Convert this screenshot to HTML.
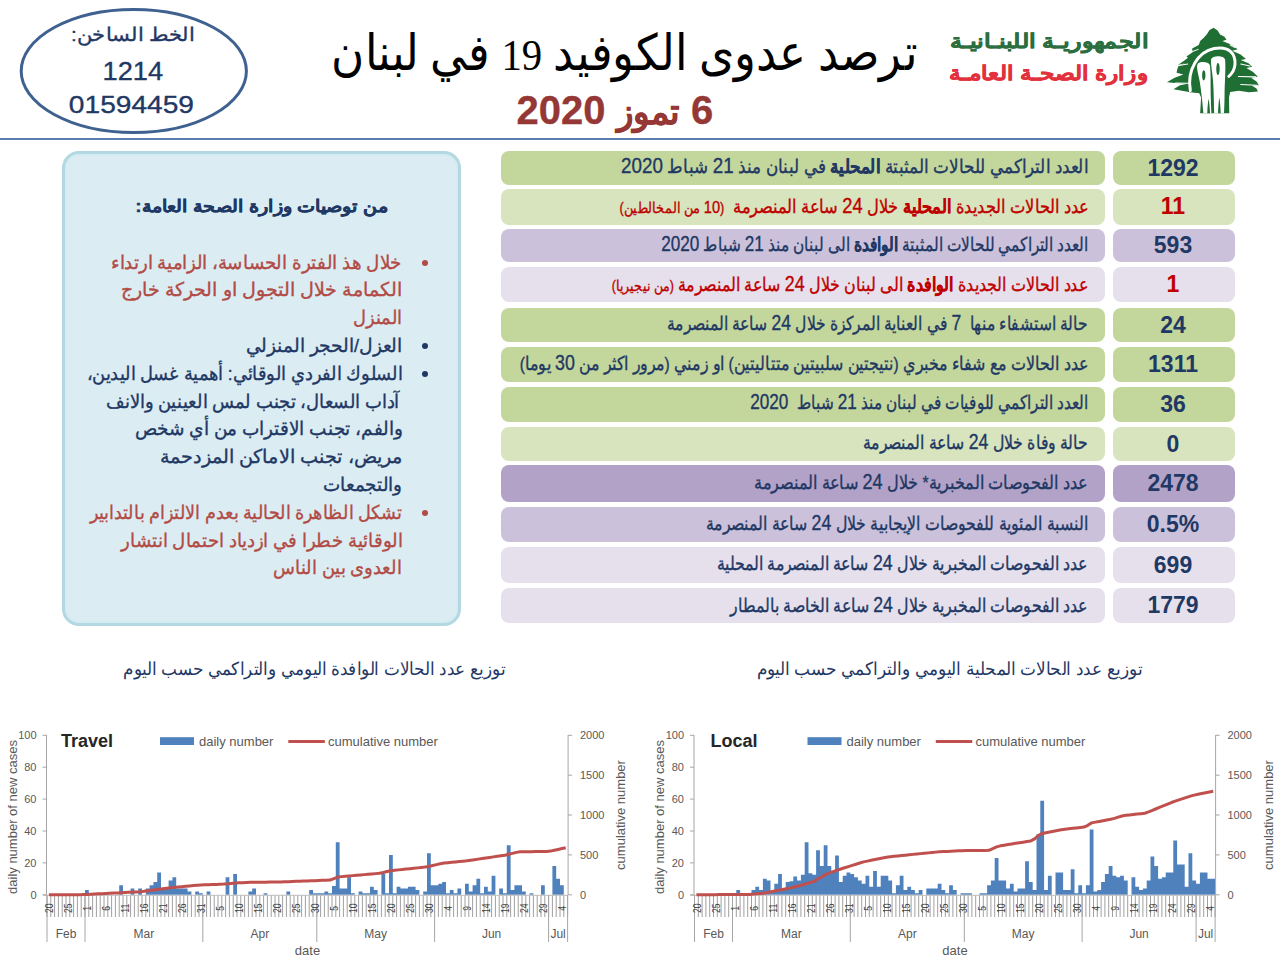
<!DOCTYPE html>
<html><head><meta charset="utf-8">
<style>
*{margin:0;padding:0;box-sizing:border-box}
html,body{width:1280px;height:960px;overflow:hidden;background:#fff}
body{position:relative;font-family:"Liberation Sans",sans-serif;color:#1f3864}
.a{position:absolute;white-space:nowrap}
.x{position:absolute;white-space:nowrap;line-height:1.3;transform-origin:0 0}
.bm{display:inline-block;width:0;height:0}
.g1{background:#c3d69b}.g2{background:#d7e4bd}.p1{background:#ccc1da}.p2{background:#e5e0ec}.p0{background:#b3a2c7}
</style></head><body>
<svg class="a" style="left:0;top:0" width="260" height="140"><ellipse cx="133.8" cy="71" rx="112.6" ry="61.6" fill="none" stroke="#3e6190" stroke-width="3"/></svg>
<svg class="a" style="left:1150px;top:15px" width="130" height="110" viewBox="0 0 1135 960">
<path fill="#1f6e33" d="M555 112 L590 135 L612 170 L650 190 L668 215 L632 226 L690 250 L712 262 L765 298 L718 312 L790 345 L838 385 L792 392 L860 420 L892 452 L842 462 L900 497 L942 540 L882 548 L930 580 L950 614 L888 616 L930 642 L942 668 L862 674 L775 662 L700 672 L690 720 L692 858 L438 858 L446 720 L430 684 L350 674 L280 662 L205 648 L262 614 L330 600 L240 596 L148 588 L215 548 L292 520 L232 505 L238 474 L250 442 L310 420 L244 436 L300 398 L332 372 L318 362 L372 325 L368 292 L425 262 L440 225 L470 198 L498 165 L520 130 Z"/>
<path fill="none" stroke="#fff" stroke-width="26" stroke-linecap="round" d="M352 660 C320 480 420 320 560 292 C690 268 748 335 742 430 C738 485 712 515 688 535"/>
<path fill="none" stroke="#fff" stroke-width="9" stroke-linecap="round" d="M252 440 L330 428 M222 594 L330 596 M792 428 L872 446 M772 536 L925 540 M792 606 L935 614 M372 318 L420 300 M700 262 L740 285"/>
<path fill="#fff" d="M466 858 C458 760 446 650 432 570 C420 510 402 450 416 428 C432 402 512 405 524 440 C532 520 528 600 530 700 C532 760 534 820 536 858 Z"/>
<path fill="#fff" d="M560 858 C558 760 556 650 550 570 C543 490 528 420 534 385 C545 350 648 350 656 390 C662 480 652 600 651 700 C650 780 648 830 646 858 Z"/>
<path fill="#1f6e33" d="M466 482 C480 480 486 505 484 535 C482 565 472 575 464 569 C452 548 452 498 466 482 Z M588 418 C602 416 610 440 608 475 C606 515 596 530 588 522 C576 498 576 442 588 418 Z M500 858 C502 800 506 760 512 730 C518 760 522 810 524 858 Z M594 858 C596 800 600 750 606 720 C612 760 616 810 617 858 Z"/>
</svg>
<div class="a" style="left:0;top:137.5px;width:1280px;height:2px;background:#5a7db3"></div>
<div class="a" style="left:62px;top:151px;width:399px;height:475px;border:3px solid #b2d8e2;border-radius:17px;background:#dbedf3;box-shadow:inset 0 0 0 1.5px #d3eaf1"></div>
<div class="a" style="left:421.9px;top:259.5px;width:6px;height:6px;border-radius:50%;background:#b24b45"></div>
<div class="a" style="left:421.9px;top:342.9px;width:6px;height:6px;border-radius:50%;background:#1f3864"></div>
<div class="a" style="left:421.9px;top:370.7px;width:6px;height:6px;border-radius:50%;background:#1f3864"></div>
<div class="a" style="left:421.9px;top:509.7px;width:6px;height:6px;border-radius:50%;background:#b24b45"></div>
<div class="a g1" style="left:501px;top:150.8px;width:604px;height:33.9px;border-radius:8px"></div>
<div class="a g1" style="left:1113px;top:150.8px;width:122px;height:33.9px;border-radius:8px;text-align:center;font-weight:bold;font-size:23px;line-height:34.4px;padding-right:2px;color:#1f3864">1292</div>
<div class="a g2" style="left:501px;top:189.3px;width:604px;height:35.3px;border-radius:8px"></div>
<div class="a g2" style="left:1113px;top:189.3px;width:122px;height:35.3px;border-radius:8px;text-align:center;font-weight:bold;font-size:23px;line-height:35.8px;padding-right:2px;color:#c00000">11</div>
<div class="a p1" style="left:501px;top:228.9px;width:604px;height:33.1px;border-radius:8px"></div>
<div class="a p1" style="left:1113px;top:228.9px;width:122px;height:33.1px;border-radius:8px;text-align:center;font-weight:bold;font-size:23px;line-height:33.6px;padding-right:2px;color:#1f3864">593</div>
<div class="a p2" style="left:501px;top:266.8px;width:604px;height:35.2px;border-radius:8px"></div>
<div class="a p2" style="left:1113px;top:266.8px;width:122px;height:35.2px;border-radius:8px;text-align:center;font-weight:bold;font-size:23px;line-height:35.7px;padding-right:2px;color:#c00000">1</div>
<div class="a g1" style="left:501px;top:308.0px;width:604px;height:34.0px;border-radius:8px"></div>
<div class="a g1" style="left:1113px;top:308.0px;width:122px;height:34.0px;border-radius:8px;text-align:center;font-weight:bold;font-size:23px;line-height:34.5px;padding-right:2px;color:#1f3864">24</div>
<div class="a g1" style="left:501px;top:346.5px;width:604px;height:35.2px;border-radius:8px"></div>
<div class="a g1" style="left:1113px;top:346.5px;width:122px;height:35.2px;border-radius:8px;text-align:center;font-weight:bold;font-size:23px;line-height:35.7px;padding-right:2px;color:#1f3864">1311</div>
<div class="a g1" style="left:501px;top:386.6px;width:604px;height:35.4px;border-radius:8px"></div>
<div class="a g1" style="left:1113px;top:386.6px;width:122px;height:35.4px;border-radius:8px;text-align:center;font-weight:bold;font-size:23px;line-height:35.9px;padding-right:2px;color:#1f3864">36</div>
<div class="a g2" style="left:501px;top:426.6px;width:604px;height:34.2px;border-radius:8px"></div>
<div class="a g2" style="left:1113px;top:426.6px;width:122px;height:34.2px;border-radius:8px;text-align:center;font-weight:bold;font-size:23px;line-height:34.7px;padding-right:2px;color:#1f3864">0</div>
<div class="a p0" style="left:501px;top:465.4px;width:604px;height:36.6px;border-radius:8px"></div>
<div class="a p0" style="left:1113px;top:465.4px;width:122px;height:36.6px;border-radius:8px;text-align:center;font-weight:bold;font-size:23px;line-height:37.1px;padding-right:2px;color:#1f3864">2478</div>
<div class="a p1" style="left:501px;top:506.8px;width:604px;height:35.2px;border-radius:8px"></div>
<div class="a p1" style="left:1113px;top:506.8px;width:122px;height:35.2px;border-radius:8px;text-align:center;font-weight:bold;font-size:23px;line-height:35.7px;padding-right:2px;color:#1f3864">0.5%</div>
<div class="a p2" style="left:501px;top:546.7px;width:604px;height:36.3px;border-radius:8px"></div>
<div class="a p2" style="left:1113px;top:546.7px;width:122px;height:36.3px;border-radius:8px;text-align:center;font-weight:bold;font-size:23px;line-height:36.8px;padding-right:2px;color:#1f3864">699</div>
<div class="a p2" style="left:501px;top:588.0px;width:604px;height:35.4px;border-radius:8px"></div>
<div class="a p2" style="left:1113px;top:588.0px;width:122px;height:35.4px;border-radius:8px;text-align:center;font-weight:bold;font-size:23px;line-height:35.9px;padding-right:2px;color:#1f3864">1779</div>
<svg class="a" style="left:0;top:0" width="1280" height="960" font-family="Liberation Sans, sans-serif">
<path d="M47.00 895V917M50.80 895V917M54.60 895V917M58.40 895V917M62.20 895V917M66.00 895V917M69.80 895V917M73.60 895V917M77.40 895V917M81.20 895V917M85.00 895V917M88.80 895V917M92.60 895V917M96.40 895V917M100.20 895V917M104.00 895V917M107.80 895V917M111.60 895V917M115.40 895V917M119.20 895V917M123.00 895V917M126.80 895V917M130.60 895V917M134.40 895V917M138.20 895V917M142.00 895V917M145.80 895V917M149.60 895V917M153.40 895V917M157.20 895V917M161.00 895V917M164.80 895V917M168.60 895V917M172.40 895V917M176.20 895V917M180.00 895V917M183.80 895V917M187.60 895V917M191.40 895V917M195.20 895V917M199.00 895V917M202.80 895V917M206.60 895V917M210.40 895V917M214.20 895V917M218.00 895V917M221.80 895V917M225.60 895V917M229.40 895V917M233.20 895V917M237.00 895V917M240.80 895V917M244.60 895V917M248.40 895V917M252.20 895V917M256.00 895V917M259.80 895V917M263.60 895V917M267.40 895V917M271.20 895V917M275.00 895V917M278.80 895V917M282.60 895V917M286.40 895V917M290.20 895V917M294.00 895V917M297.80 895V917M301.60 895V917M305.40 895V917M309.20 895V917M313.00 895V917M316.80 895V917M320.60 895V917M324.40 895V917M328.20 895V917M332.00 895V917M335.80 895V917M339.60 895V917M343.40 895V917M347.20 895V917M351.00 895V917M354.80 895V917M358.60 895V917M362.40 895V917M366.20 895V917M370.00 895V917M373.80 895V917M377.60 895V917M381.40 895V917M385.20 895V917M389.00 895V917M392.80 895V917M396.60 895V917M400.40 895V917M404.20 895V917M408.00 895V917M411.80 895V917M415.60 895V917M419.40 895V917M423.20 895V917M427.00 895V917M430.80 895V917M434.60 895V917M438.40 895V917M442.20 895V917M446.00 895V917M449.80 895V917M453.60 895V917M457.40 895V917M461.20 895V917M465.00 895V917M468.80 895V917M472.60 895V917M476.40 895V917M480.20 895V917M484.00 895V917M487.80 895V917M491.60 895V917M495.40 895V917M499.20 895V917M503.00 895V917M506.80 895V917M510.60 895V917M514.40 895V917M518.20 895V917M522.00 895V917M525.80 895V917M529.60 895V917M533.40 895V917M537.20 895V917M541.00 895V917M544.80 895V917M548.60 895V917M552.40 895V917M556.20 895V917M560.00 895V917M563.80 895V917M567.60 895V917" stroke="#a0a0a0" stroke-width="1" fill="none"/>
<path d="M81.20 893.20h3.8v1.59h-3.8ZM85.00 890.01h3.8v4.79h-3.8ZM96.40 893.20h3.8v1.59h-3.8ZM104.00 893.20h3.8v1.59h-3.8ZM119.20 885.23h3.8v9.57h-3.8ZM130.60 888.42h3.8v6.38h-3.8ZM138.20 888.42h3.8v6.38h-3.8ZM145.80 888.42h3.8v6.38h-3.8ZM149.60 885.23h3.8v9.57h-3.8ZM153.40 882.04h3.8v12.76h-3.8ZM157.20 872.47h3.8v22.33h-3.8ZM161.00 888.42h3.8v6.38h-3.8ZM164.80 888.42h3.8v6.38h-3.8ZM168.60 880.44h3.8v14.36h-3.8ZM172.40 877.25h3.8v17.54h-3.8ZM176.20 888.42h3.8v6.38h-3.8ZM180.00 888.42h3.8v6.38h-3.8ZM183.80 888.42h3.8v6.38h-3.8ZM187.60 891.61h3.8v3.19h-3.8ZM195.20 891.61h3.8v3.19h-3.8ZM199.00 893.20h3.8v1.59h-3.8ZM206.60 891.61h3.8v3.19h-3.8ZM225.60 877.25h3.8v17.54h-3.8ZM233.20 874.06h3.8v20.73h-3.8ZM248.40 891.61h3.8v3.19h-3.8ZM252.20 888.42h3.8v6.38h-3.8ZM263.60 893.20h3.8v1.59h-3.8ZM286.40 891.61h3.8v3.19h-3.8ZM309.20 890.01h3.8v4.79h-3.8ZM313.00 893.20h3.8v1.59h-3.8ZM316.80 893.20h3.8v1.59h-3.8ZM320.60 893.20h3.8v1.59h-3.8ZM324.40 891.61h3.8v3.19h-3.8ZM328.20 893.20h3.8v1.59h-3.8ZM332.00 886.03h3.8v8.77h-3.8ZM335.80 842.16h3.8v52.63h-3.8ZM339.60 888.42h3.8v6.38h-3.8ZM343.40 888.42h3.8v6.38h-3.8ZM347.20 877.25h3.8v17.54h-3.8ZM351.00 893.20h3.8v1.59h-3.8ZM358.60 891.61h3.8v3.19h-3.8ZM362.40 893.20h3.8v1.59h-3.8ZM366.20 893.20h3.8v1.59h-3.8ZM370.00 886.82h3.8v7.97h-3.8ZM373.80 890.01h3.8v4.79h-3.8ZM381.40 874.06h3.8v20.73h-3.8ZM385.20 893.20h3.8v1.59h-3.8ZM389.00 854.92h3.8v39.88h-3.8ZM392.80 893.20h3.8v1.59h-3.8ZM396.60 886.82h3.8v7.97h-3.8ZM400.40 888.42h3.8v6.38h-3.8ZM404.20 888.42h3.8v6.38h-3.8ZM408.00 886.82h3.8v7.97h-3.8ZM411.80 886.82h3.8v7.97h-3.8ZM415.60 890.01h3.8v4.79h-3.8ZM423.20 891.61h3.8v3.19h-3.8ZM427.00 853.33h3.8v41.47h-3.8ZM430.80 885.23h3.8v9.57h-3.8ZM434.60 885.23h3.8v9.57h-3.8ZM438.40 883.63h3.8v11.16h-3.8ZM442.20 882.04h3.8v12.76h-3.8ZM446.00 893.20h3.8v1.59h-3.8ZM449.80 890.01h3.8v4.79h-3.8ZM453.60 893.20h3.8v1.59h-3.8ZM457.40 888.42h3.8v6.38h-3.8ZM465.00 883.63h3.8v11.16h-3.8ZM468.80 891.61h3.8v3.19h-3.8ZM472.60 885.23h3.8v9.57h-3.8ZM476.40 878.85h3.8v15.95h-3.8ZM480.20 893.20h3.8v1.59h-3.8ZM484.00 886.82h3.8v7.97h-3.8ZM487.80 891.61h3.8v3.19h-3.8ZM491.60 875.66h3.8v19.14h-3.8ZM499.20 888.42h3.8v6.38h-3.8ZM503.00 893.20h3.8v1.59h-3.8ZM506.80 845.35h3.8v49.45h-3.8ZM510.60 890.01h3.8v4.79h-3.8ZM514.40 885.23h3.8v9.57h-3.8ZM518.20 885.23h3.8v9.57h-3.8ZM522.00 891.61h3.8v3.19h-3.8ZM529.60 893.20h3.8v1.59h-3.8ZM541.00 885.23h3.8v9.57h-3.8ZM552.40 866.09h3.8v28.71h-3.8ZM556.20 878.85h3.8v15.95h-3.8ZM560.00 885.23h3.8v9.57h-3.8Z" fill="#4f81bd"/>
<path d="M46.5 735V895M568.1 735V895" stroke="#a6a6a6" stroke-width="1" fill="none"/>
<path d="M43.0 895.3H567.6" stroke="#bfbfbf" stroke-width="1"/>
<path d="M46.5 894.8h-4M46.5 862.9h-4M46.5 831.0h-4M46.5 799.1h-4M46.5 767.2h-4M46.5 735.3h-4M568.1 894.8h4M568.1 854.9h4M568.1 815.0h4M568.1 775.2h4M568.1 735.3h4" stroke="#a6a6a6" stroke-width="1" fill="none"/>
<path d="M47.0 895V942M85.0 895V942M202.8 895V942M316.8 895V942M434.6 895V942M548.6 895V942M567.6 895V942" stroke="#a6a6a6" stroke-width="1" fill="none"/>
<polyline points="48.9,894.80 52.7,894.79 56.5,894.78 60.3,894.77 64.1,894.76 67.9,894.75 71.7,894.74 75.5,894.73 79.3,894.72 83.1,894.60 86.9,894.39 90.7,894.21 94.5,894.02 98.3,893.84 102.1,893.66 105.9,893.47 109.7,893.29 113.5,893.11 117.3,892.92 121.1,892.72 124.9,892.52 128.7,892.32 132.5,892.12 136.3,891.91 140.1,891.71 143.9,891.35 147.7,890.82 151.5,890.30 155.3,889.78 159.1,889.25 162.9,888.73 166.7,888.20 170.5,887.76 174.3,887.38 178.1,887.01 181.9,886.64 185.7,886.26 189.5,885.89 193.3,885.52 197.1,885.15 200.9,884.96 204.7,884.81 208.5,884.67 212.3,884.53 216.1,884.39 219.9,884.25 223.7,884.10 227.5,883.83 231.3,883.44 235.1,883.04 238.9,882.77 242.7,882.64 246.5,882.51 250.3,882.37 254.1,882.27 257.9,882.23 261.7,882.20 265.5,882.16 269.3,882.12 273.1,882.09 276.9,882.05 280.7,881.94 284.5,881.79 288.3,881.65 292.1,881.51 295.9,881.36 299.7,881.22 303.5,881.07 307.3,880.93 311.1,880.78 314.9,880.64 318.7,880.49 322.5,880.35 326.3,880.21 330.1,880.06 333.9,878.65 337.7,877.09 341.5,876.63 345.3,876.30 349.1,875.97 352.9,875.63 356.7,875.30 360.5,874.96 364.3,874.63 368.1,874.29 371.9,873.96 375.7,873.62 379.5,873.29 383.3,872.52 387.1,871.57 390.9,870.68 394.7,870.28 398.5,869.88 402.3,869.48 406.1,869.08 409.9,868.68 413.7,868.28 417.5,867.88 421.3,867.49 425.1,867.09 428.9,866.44 432.7,865.55 436.5,864.66 440.3,863.76 444.1,863.03 447.9,862.65 451.7,862.28 455.5,861.90 459.3,861.53 463.1,861.15 466.9,860.78 470.7,860.27 474.5,859.71 478.3,859.14 482.1,858.58 485.9,858.02 489.7,857.45 493.5,856.89 497.3,856.33 501.1,855.76 504.9,855.20 508.7,854.31 512.5,853.34 516.3,852.38 520.1,851.86 523.9,851.79 527.7,851.72 531.5,851.66 535.3,851.59 539.1,851.52 542.9,851.45 546.7,851.38 550.5,851.09 554.3,850.25 558.1,849.42 561.9,848.58 565.7,847.75" fill="none" stroke="#c0504d" stroke-width="3" stroke-linejoin="round"/>
<text x="36.5" y="898.8" text-anchor="end" font-size="11" fill="#595959">0</text>
<text x="36.5" y="866.9" text-anchor="end" font-size="11" fill="#595959">20</text>
<text x="36.5" y="835.0" text-anchor="end" font-size="11" fill="#595959">40</text>
<text x="36.5" y="803.1" text-anchor="end" font-size="11" fill="#595959">60</text>
<text x="36.5" y="771.2" text-anchor="end" font-size="11" fill="#595959">80</text>
<text x="36.5" y="739.3" text-anchor="end" font-size="11" fill="#595959">100</text>
<text x="580.0" y="898.8" font-size="11" fill="#595959">0</text>
<text x="580.0" y="858.9" font-size="11" fill="#595959">500</text>
<text x="580.0" y="819.0" font-size="11" fill="#595959">1000</text>
<text x="580.0" y="779.2" font-size="11" fill="#595959">1500</text>
<text x="580.0" y="739.3" font-size="11" fill="#595959">2000</text>
<text transform="translate(49.4 908.3) rotate(-90) scale(0.78 1)" text-anchor="middle" y="4" font-size="11" fill="#404040">20</text>
<text transform="translate(68.4 908.3) rotate(-90) scale(0.78 1)" text-anchor="middle" y="4" font-size="11" fill="#404040">25</text>
<text transform="translate(87.4 908.3) rotate(-90) scale(0.78 1)" text-anchor="middle" y="4" font-size="11" fill="#404040">1</text>
<text transform="translate(106.4 908.3) rotate(-90) scale(0.78 1)" text-anchor="middle" y="4" font-size="11" fill="#404040">6</text>
<text transform="translate(125.4 908.3) rotate(-90) scale(0.78 1)" text-anchor="middle" y="4" font-size="11" fill="#404040">11</text>
<text transform="translate(144.4 908.3) rotate(-90) scale(0.78 1)" text-anchor="middle" y="4" font-size="11" fill="#404040">16</text>
<text transform="translate(163.4 908.3) rotate(-90) scale(0.78 1)" text-anchor="middle" y="4" font-size="11" fill="#404040">21</text>
<text transform="translate(182.4 908.3) rotate(-90) scale(0.78 1)" text-anchor="middle" y="4" font-size="11" fill="#404040">26</text>
<text transform="translate(201.4 908.3) rotate(-90) scale(0.78 1)" text-anchor="middle" y="4" font-size="11" fill="#404040">31</text>
<text transform="translate(220.4 908.3) rotate(-90) scale(0.78 1)" text-anchor="middle" y="4" font-size="11" fill="#404040">5</text>
<text transform="translate(239.4 908.3) rotate(-90) scale(0.78 1)" text-anchor="middle" y="4" font-size="11" fill="#404040">10</text>
<text transform="translate(258.4 908.3) rotate(-90) scale(0.78 1)" text-anchor="middle" y="4" font-size="11" fill="#404040">15</text>
<text transform="translate(277.4 908.3) rotate(-90) scale(0.78 1)" text-anchor="middle" y="4" font-size="11" fill="#404040">20</text>
<text transform="translate(296.4 908.3) rotate(-90) scale(0.78 1)" text-anchor="middle" y="4" font-size="11" fill="#404040">25</text>
<text transform="translate(315.4 908.3) rotate(-90) scale(0.78 1)" text-anchor="middle" y="4" font-size="11" fill="#404040">30</text>
<text transform="translate(334.4 908.3) rotate(-90) scale(0.78 1)" text-anchor="middle" y="4" font-size="11" fill="#404040">5</text>
<text transform="translate(353.4 908.3) rotate(-90) scale(0.78 1)" text-anchor="middle" y="4" font-size="11" fill="#404040">10</text>
<text transform="translate(372.4 908.3) rotate(-90) scale(0.78 1)" text-anchor="middle" y="4" font-size="11" fill="#404040">15</text>
<text transform="translate(391.4 908.3) rotate(-90) scale(0.78 1)" text-anchor="middle" y="4" font-size="11" fill="#404040">20</text>
<text transform="translate(410.4 908.3) rotate(-90) scale(0.78 1)" text-anchor="middle" y="4" font-size="11" fill="#404040">25</text>
<text transform="translate(429.4 908.3) rotate(-90) scale(0.78 1)" text-anchor="middle" y="4" font-size="11" fill="#404040">30</text>
<text transform="translate(448.4 908.3) rotate(-90) scale(0.78 1)" text-anchor="middle" y="4" font-size="11" fill="#404040">4</text>
<text transform="translate(467.4 908.3) rotate(-90) scale(0.78 1)" text-anchor="middle" y="4" font-size="11" fill="#404040">9</text>
<text transform="translate(486.4 908.3) rotate(-90) scale(0.78 1)" text-anchor="middle" y="4" font-size="11" fill="#404040">14</text>
<text transform="translate(505.4 908.3) rotate(-90) scale(0.78 1)" text-anchor="middle" y="4" font-size="11" fill="#404040">19</text>
<text transform="translate(524.4 908.3) rotate(-90) scale(0.78 1)" text-anchor="middle" y="4" font-size="11" fill="#404040">24</text>
<text transform="translate(543.4 908.3) rotate(-90) scale(0.78 1)" text-anchor="middle" y="4" font-size="11" fill="#404040">29</text>
<text transform="translate(562.4 908.3) rotate(-90) scale(0.78 1)" text-anchor="middle" y="4" font-size="11" fill="#404040">4</text>
<text x="66.0" y="938" text-anchor="middle" font-size="12" fill="#595959">Feb</text>
<text x="143.9" y="938" text-anchor="middle" font-size="12" fill="#595959">Mar</text>
<text x="259.8" y="938" text-anchor="middle" font-size="12" fill="#595959">Apr</text>
<text x="375.7" y="938" text-anchor="middle" font-size="12" fill="#595959">May</text>
<text x="491.6" y="938" text-anchor="middle" font-size="12" fill="#595959">Jun</text>
<text x="558.1" y="938" text-anchor="middle" font-size="12" fill="#595959">Jul</text>
<text x="307.5" y="954.5" text-anchor="middle" font-size="13" fill="#595959">date</text>
<text transform="translate(16.5 817) rotate(-90)" text-anchor="middle" font-size="13" fill="#595959">daily number of new cases</text>
<text transform="translate(625.0 815) rotate(-90)" text-anchor="middle" font-size="13" fill="#595959">cumulative number</text>
<text x="61.0" y="746.5" font-size="18" font-weight="bold" fill="#262626">Travel</text>
<rect x="160.0" y="737.2" width="34" height="7.8" fill="#4f81bd"/>
<text x="199.0" y="745.5" font-size="13" fill="#595959">daily number</text>
<path d="M288.3 741.4h36.5" stroke="#c0504d" stroke-width="3"/>
<text x="328.0" y="745.5" font-size="13" fill="#595959">cumulative number</text>
<path d="M694.50 895V917M698.30 895V917M702.10 895V917M705.90 895V917M709.70 895V917M713.50 895V917M717.30 895V917M721.10 895V917M724.90 895V917M728.70 895V917M732.50 895V917M736.30 895V917M740.10 895V917M743.90 895V917M747.70 895V917M751.50 895V917M755.30 895V917M759.10 895V917M762.90 895V917M766.70 895V917M770.50 895V917M774.30 895V917M778.10 895V917M781.90 895V917M785.70 895V917M789.50 895V917M793.30 895V917M797.10 895V917M800.90 895V917M804.70 895V917M808.50 895V917M812.30 895V917M816.10 895V917M819.90 895V917M823.70 895V917M827.50 895V917M831.30 895V917M835.10 895V917M838.90 895V917M842.70 895V917M846.50 895V917M850.30 895V917M854.10 895V917M857.90 895V917M861.70 895V917M865.50 895V917M869.30 895V917M873.10 895V917M876.90 895V917M880.70 895V917M884.50 895V917M888.30 895V917M892.10 895V917M895.90 895V917M899.70 895V917M903.50 895V917M907.30 895V917M911.10 895V917M914.90 895V917M918.70 895V917M922.50 895V917M926.30 895V917M930.10 895V917M933.90 895V917M937.70 895V917M941.50 895V917M945.30 895V917M949.10 895V917M952.90 895V917M956.70 895V917M960.50 895V917M964.30 895V917M968.10 895V917M971.90 895V917M975.70 895V917M979.50 895V917M983.30 895V917M987.10 895V917M990.90 895V917M994.70 895V917M998.50 895V917M1002.30 895V917M1006.10 895V917M1009.90 895V917M1013.70 895V917M1017.50 895V917M1021.30 895V917M1025.10 895V917M1028.90 895V917M1032.70 895V917M1036.50 895V917M1040.30 895V917M1044.10 895V917M1047.90 895V917M1051.70 895V917M1055.50 895V917M1059.30 895V917M1063.10 895V917M1066.90 895V917M1070.70 895V917M1074.50 895V917M1078.30 895V917M1082.10 895V917M1085.90 895V917M1089.70 895V917M1093.50 895V917M1097.30 895V917M1101.10 895V917M1104.90 895V917M1108.70 895V917M1112.50 895V917M1116.30 895V917M1120.10 895V917M1123.90 895V917M1127.70 895V917M1131.50 895V917M1135.30 895V917M1139.10 895V917M1142.90 895V917M1146.70 895V917M1150.50 895V917M1154.30 895V917M1158.10 895V917M1161.90 895V917M1165.70 895V917M1169.50 895V917M1173.30 895V917M1177.10 895V917M1180.90 895V917M1184.70 895V917M1188.50 895V917M1192.30 895V917M1196.10 895V917M1199.90 895V917M1203.70 895V917M1207.50 895V917M1211.30 895V917M1215.10 895V917" stroke="#a0a0a0" stroke-width="1" fill="none"/>
<path d="M736.30 890.01h3.8v4.79h-3.8ZM751.50 890.01h3.8v4.79h-3.8ZM755.30 886.82h3.8v7.97h-3.8ZM759.10 890.01h3.8v4.79h-3.8ZM762.90 878.85h3.8v15.95h-3.8ZM766.70 880.44h3.8v14.36h-3.8ZM770.50 891.61h3.8v3.19h-3.8ZM774.30 883.63h3.8v11.16h-3.8ZM778.10 874.06h3.8v20.73h-3.8ZM781.90 890.01h3.8v4.79h-3.8ZM785.70 882.04h3.8v12.76h-3.8ZM789.50 881.24h3.8v13.56h-3.8ZM793.30 876.46h3.8v18.34h-3.8ZM797.10 880.44h3.8v14.36h-3.8ZM800.90 874.70h3.8v20.10h-3.8ZM804.70 842.16h3.8v52.63h-3.8ZM808.50 873.27h3.8v21.53h-3.8ZM812.30 874.70h3.8v20.10h-3.8ZM816.10 850.14h3.8v44.66h-3.8ZM819.90 866.09h3.8v28.71h-3.8ZM823.70 845.35h3.8v49.45h-3.8ZM827.50 866.09h3.8v28.71h-3.8ZM831.30 870.88h3.8v23.93h-3.8ZM835.10 855.40h3.8v39.40h-3.8ZM838.90 882.04h3.8v12.76h-3.8ZM842.70 875.66h3.8v19.14h-3.8ZM846.50 872.47h3.8v22.33h-3.8ZM850.30 874.06h3.8v20.73h-3.8ZM854.10 877.25h3.8v17.54h-3.8ZM857.90 880.44h3.8v14.36h-3.8ZM861.70 883.63h3.8v11.16h-3.8ZM865.50 875.66h3.8v19.14h-3.8ZM869.30 886.82h3.8v7.97h-3.8ZM873.10 870.88h3.8v23.93h-3.8ZM876.90 886.82h3.8v7.97h-3.8ZM880.70 875.66h3.8v19.14h-3.8ZM884.50 875.66h3.8v19.14h-3.8ZM888.30 880.44h3.8v14.36h-3.8ZM892.10 893.20h3.8v1.59h-3.8ZM895.90 885.23h3.8v9.57h-3.8ZM899.70 875.66h3.8v19.14h-3.8ZM903.50 890.01h3.8v4.79h-3.8ZM907.30 886.82h3.8v7.97h-3.8ZM911.10 890.01h3.8v4.79h-3.8ZM914.90 893.20h3.8v1.59h-3.8ZM918.70 890.01h3.8v4.79h-3.8ZM926.30 888.42h3.8v6.38h-3.8ZM930.10 888.42h3.8v6.38h-3.8ZM933.90 888.42h3.8v6.38h-3.8ZM937.70 883.63h3.8v11.16h-3.8ZM941.50 890.01h3.8v4.79h-3.8ZM945.30 893.20h3.8v1.59h-3.8ZM949.10 885.23h3.8v9.57h-3.8ZM952.90 890.01h3.8v4.79h-3.8ZM960.50 893.20h3.8v1.59h-3.8ZM964.30 893.20h3.8v1.59h-3.8ZM968.10 893.20h3.8v1.59h-3.8ZM979.50 893.20h3.8v1.59h-3.8ZM983.30 893.20h3.8v1.59h-3.8ZM987.10 885.23h3.8v9.57h-3.8ZM990.90 880.44h3.8v14.36h-3.8ZM994.70 858.12h3.8v36.69h-3.8ZM998.50 880.44h3.8v14.36h-3.8ZM1002.30 880.44h3.8v14.36h-3.8ZM1006.10 888.42h3.8v6.38h-3.8ZM1009.90 883.63h3.8v11.16h-3.8ZM1013.70 891.61h3.8v3.19h-3.8ZM1017.50 888.42h3.8v6.38h-3.8ZM1021.30 888.42h3.8v6.38h-3.8ZM1025.10 861.30h3.8v33.49h-3.8ZM1028.90 882.04h3.8v12.76h-3.8ZM1032.70 890.01h3.8v4.79h-3.8ZM1036.50 834.19h3.8v60.61h-3.8ZM1040.30 800.69h3.8v94.11h-3.8ZM1044.10 890.01h3.8v4.79h-3.8ZM1047.90 875.66h3.8v19.14h-3.8ZM1055.50 872.47h3.8v22.33h-3.8ZM1059.30 872.47h3.8v22.33h-3.8ZM1063.10 890.01h3.8v4.79h-3.8ZM1066.90 890.01h3.8v4.79h-3.8ZM1070.70 869.28h3.8v25.52h-3.8ZM1074.50 893.20h3.8v1.59h-3.8ZM1078.30 885.23h3.8v9.57h-3.8ZM1082.10 893.20h3.8v1.59h-3.8ZM1085.90 885.23h3.8v9.57h-3.8ZM1089.70 829.40h3.8v65.39h-3.8ZM1093.50 891.61h3.8v3.19h-3.8ZM1097.30 890.01h3.8v4.79h-3.8ZM1101.10 882.04h3.8v12.76h-3.8ZM1104.90 874.06h3.8v20.73h-3.8ZM1108.70 866.09h3.8v28.71h-3.8ZM1112.50 875.66h3.8v19.14h-3.8ZM1116.30 877.25h3.8v17.54h-3.8ZM1120.10 875.66h3.8v19.14h-3.8ZM1123.90 880.44h3.8v14.36h-3.8ZM1131.50 877.25h3.8v17.54h-3.8ZM1135.30 886.82h3.8v7.97h-3.8ZM1139.10 890.01h3.8v4.79h-3.8ZM1142.90 888.42h3.8v6.38h-3.8ZM1146.70 880.44h3.8v14.36h-3.8ZM1150.50 856.52h3.8v38.28h-3.8ZM1154.30 866.09h3.8v28.71h-3.8ZM1158.10 878.85h3.8v15.95h-3.8ZM1161.90 877.25h3.8v17.54h-3.8ZM1165.70 872.47h3.8v22.33h-3.8ZM1169.50 872.47h3.8v22.33h-3.8ZM1173.30 840.57h3.8v54.23h-3.8ZM1177.10 864.50h3.8v30.30h-3.8ZM1180.90 864.50h3.8v30.30h-3.8ZM1184.70 886.82h3.8v7.97h-3.8ZM1188.50 853.33h3.8v41.47h-3.8ZM1192.30 880.44h3.8v14.36h-3.8ZM1196.10 883.63h3.8v11.16h-3.8ZM1199.90 872.47h3.8v22.33h-3.8ZM1203.70 872.47h3.8v22.33h-3.8ZM1207.50 878.85h3.8v15.95h-3.8ZM1211.30 878.85h3.8v15.95h-3.8Z" fill="#4f81bd"/>
<path d="M694.0 735V895M1215.6 735V895" stroke="#a6a6a6" stroke-width="1" fill="none"/>
<path d="M690.5 895.3H1215.1" stroke="#bfbfbf" stroke-width="1"/>
<path d="M694.0 894.8h-4M694.0 862.9h-4M694.0 831.0h-4M694.0 799.1h-4M694.0 767.2h-4M694.0 735.3h-4M1215.6 894.8h4M1215.6 854.9h4M1215.6 815.0h4M1215.6 775.2h4M1215.6 735.3h4" stroke="#a6a6a6" stroke-width="1" fill="none"/>
<path d="M694.5 895V942M732.5 895V942M850.3 895V942M964.3 895V942M1082.1 895V942M1196.1 895V942M1215.1 895V942" stroke="#a6a6a6" stroke-width="1" fill="none"/>
<polyline points="696.4,894.79 700.2,894.76 704.0,894.73 707.8,894.70 711.6,894.68 715.4,894.65 719.2,894.62 723.0,894.60 726.8,894.57 730.6,894.54 734.4,894.51 738.2,894.49 742.0,894.46 745.8,894.43 749.6,894.40 753.4,894.11 757.2,893.79 761.0,893.46 764.8,893.05 768.6,892.28 772.4,891.50 776.2,890.73 780.0,889.98 783.8,889.23 787.6,888.48 791.4,887.62 795.2,886.67 799.0,885.73 802.8,884.73 806.6,883.59 810.4,882.46 814.2,881.32 818.0,879.05 821.8,876.78 825.6,874.51 829.4,872.90 833.2,871.57 837.0,870.24 840.8,868.96 844.6,867.77 848.4,866.58 852.2,865.39 856.0,864.20 859.8,863.01 863.6,861.87 867.4,861.11 871.2,860.34 875.0,859.58 878.8,858.82 882.6,858.06 886.4,857.30 890.2,856.72 894.0,856.33 897.8,855.94 901.6,855.54 905.4,855.15 909.2,854.76 913.0,854.37 916.8,853.99 920.6,853.62 924.4,853.24 928.2,852.87 932.0,852.49 935.8,852.12 939.6,851.82 943.4,851.62 947.2,851.43 951.0,851.24 954.8,851.04 958.6,850.85 962.4,850.66 966.2,850.62 970.0,850.62 973.8,850.62 977.6,850.62 981.4,850.62 985.2,850.62 989.0,850.28 992.8,848.59 996.6,846.91 1000.4,845.85 1004.2,845.22 1008.0,844.58 1011.8,843.95 1015.6,843.34 1019.4,842.74 1023.2,842.15 1027.0,841.55 1030.8,840.95 1034.6,838.94 1038.4,835.51 1042.2,833.43 1046.0,832.69 1049.8,831.96 1053.6,831.23 1057.4,830.50 1061.2,829.77 1065.0,829.19 1068.8,828.77 1072.6,828.34 1076.4,827.92 1080.2,827.49 1084.0,827.07 1087.8,825.29 1091.6,822.89 1095.4,822.15 1099.2,821.42 1103.0,820.69 1106.8,819.96 1110.6,819.23 1114.4,818.36 1118.2,817.16 1122.0,815.97 1125.8,815.31 1129.6,814.90 1133.4,814.48 1137.2,814.06 1141.0,813.64 1144.8,813.22 1148.6,811.89 1152.4,810.32 1156.2,808.76 1160.0,807.20 1163.8,805.64 1167.6,804.08 1171.4,802.52 1175.2,801.14 1179.0,799.88 1182.8,798.62 1186.6,797.36 1190.4,796.10 1194.2,795.11 1198.0,794.31 1201.8,793.52 1205.6,792.72 1209.4,791.92 1213.2,791.28" fill="none" stroke="#c0504d" stroke-width="3" stroke-linejoin="round"/>
<text x="684.0" y="898.8" text-anchor="end" font-size="11" fill="#595959">0</text>
<text x="684.0" y="866.9" text-anchor="end" font-size="11" fill="#595959">20</text>
<text x="684.0" y="835.0" text-anchor="end" font-size="11" fill="#595959">40</text>
<text x="684.0" y="803.1" text-anchor="end" font-size="11" fill="#595959">60</text>
<text x="684.0" y="771.2" text-anchor="end" font-size="11" fill="#595959">80</text>
<text x="684.0" y="739.3" text-anchor="end" font-size="11" fill="#595959">100</text>
<text x="1227.5" y="898.8" font-size="11" fill="#595959">0</text>
<text x="1227.5" y="858.9" font-size="11" fill="#595959">500</text>
<text x="1227.5" y="819.0" font-size="11" fill="#595959">1000</text>
<text x="1227.5" y="779.2" font-size="11" fill="#595959">1500</text>
<text x="1227.5" y="739.3" font-size="11" fill="#595959">2000</text>
<text transform="translate(696.9 908.3) rotate(-90) scale(0.78 1)" text-anchor="middle" y="4" font-size="11" fill="#404040">20</text>
<text transform="translate(715.9 908.3) rotate(-90) scale(0.78 1)" text-anchor="middle" y="4" font-size="11" fill="#404040">25</text>
<text transform="translate(734.9 908.3) rotate(-90) scale(0.78 1)" text-anchor="middle" y="4" font-size="11" fill="#404040">1</text>
<text transform="translate(753.9 908.3) rotate(-90) scale(0.78 1)" text-anchor="middle" y="4" font-size="11" fill="#404040">6</text>
<text transform="translate(772.9 908.3) rotate(-90) scale(0.78 1)" text-anchor="middle" y="4" font-size="11" fill="#404040">11</text>
<text transform="translate(791.9 908.3) rotate(-90) scale(0.78 1)" text-anchor="middle" y="4" font-size="11" fill="#404040">16</text>
<text transform="translate(810.9 908.3) rotate(-90) scale(0.78 1)" text-anchor="middle" y="4" font-size="11" fill="#404040">21</text>
<text transform="translate(829.9 908.3) rotate(-90) scale(0.78 1)" text-anchor="middle" y="4" font-size="11" fill="#404040">26</text>
<text transform="translate(848.9 908.3) rotate(-90) scale(0.78 1)" text-anchor="middle" y="4" font-size="11" fill="#404040">31</text>
<text transform="translate(867.9 908.3) rotate(-90) scale(0.78 1)" text-anchor="middle" y="4" font-size="11" fill="#404040">5</text>
<text transform="translate(886.9 908.3) rotate(-90) scale(0.78 1)" text-anchor="middle" y="4" font-size="11" fill="#404040">10</text>
<text transform="translate(905.9 908.3) rotate(-90) scale(0.78 1)" text-anchor="middle" y="4" font-size="11" fill="#404040">15</text>
<text transform="translate(924.9 908.3) rotate(-90) scale(0.78 1)" text-anchor="middle" y="4" font-size="11" fill="#404040">20</text>
<text transform="translate(943.9 908.3) rotate(-90) scale(0.78 1)" text-anchor="middle" y="4" font-size="11" fill="#404040">25</text>
<text transform="translate(962.9 908.3) rotate(-90) scale(0.78 1)" text-anchor="middle" y="4" font-size="11" fill="#404040">30</text>
<text transform="translate(981.9 908.3) rotate(-90) scale(0.78 1)" text-anchor="middle" y="4" font-size="11" fill="#404040">5</text>
<text transform="translate(1000.9 908.3) rotate(-90) scale(0.78 1)" text-anchor="middle" y="4" font-size="11" fill="#404040">10</text>
<text transform="translate(1019.9 908.3) rotate(-90) scale(0.78 1)" text-anchor="middle" y="4" font-size="11" fill="#404040">15</text>
<text transform="translate(1038.9 908.3) rotate(-90) scale(0.78 1)" text-anchor="middle" y="4" font-size="11" fill="#404040">20</text>
<text transform="translate(1057.9 908.3) rotate(-90) scale(0.78 1)" text-anchor="middle" y="4" font-size="11" fill="#404040">25</text>
<text transform="translate(1076.9 908.3) rotate(-90) scale(0.78 1)" text-anchor="middle" y="4" font-size="11" fill="#404040">30</text>
<text transform="translate(1095.9 908.3) rotate(-90) scale(0.78 1)" text-anchor="middle" y="4" font-size="11" fill="#404040">4</text>
<text transform="translate(1114.9 908.3) rotate(-90) scale(0.78 1)" text-anchor="middle" y="4" font-size="11" fill="#404040">9</text>
<text transform="translate(1133.9 908.3) rotate(-90) scale(0.78 1)" text-anchor="middle" y="4" font-size="11" fill="#404040">14</text>
<text transform="translate(1152.9 908.3) rotate(-90) scale(0.78 1)" text-anchor="middle" y="4" font-size="11" fill="#404040">19</text>
<text transform="translate(1171.9 908.3) rotate(-90) scale(0.78 1)" text-anchor="middle" y="4" font-size="11" fill="#404040">24</text>
<text transform="translate(1190.9 908.3) rotate(-90) scale(0.78 1)" text-anchor="middle" y="4" font-size="11" fill="#404040">29</text>
<text transform="translate(1209.9 908.3) rotate(-90) scale(0.78 1)" text-anchor="middle" y="4" font-size="11" fill="#404040">4</text>
<text x="713.5" y="938" text-anchor="middle" font-size="12" fill="#595959">Feb</text>
<text x="791.4" y="938" text-anchor="middle" font-size="12" fill="#595959">Mar</text>
<text x="907.3" y="938" text-anchor="middle" font-size="12" fill="#595959">Apr</text>
<text x="1023.2" y="938" text-anchor="middle" font-size="12" fill="#595959">May</text>
<text x="1139.1" y="938" text-anchor="middle" font-size="12" fill="#595959">Jun</text>
<text x="1205.6" y="938" text-anchor="middle" font-size="12" fill="#595959">Jul</text>
<text x="955.0" y="954.5" text-anchor="middle" font-size="13" fill="#595959">date</text>
<text transform="translate(664.0 817) rotate(-90)" text-anchor="middle" font-size="13" fill="#595959">daily number of new cases</text>
<text transform="translate(1272.5 815) rotate(-90)" text-anchor="middle" font-size="13" fill="#595959">cumulative number</text>
<text x="710.5" y="746.5" font-size="18" font-weight="bold" fill="#262626">Local</text>
<rect x="807.5" y="737.2" width="34" height="7.8" fill="#4f81bd"/>
<text x="846.5" y="745.5" font-size="13" fill="#595959">daily number</text>
<path d="M935.8 741.4h36.5" stroke="#c0504d" stroke-width="3"/>
<text x="975.5" y="745.5" font-size="13" fill="#595959">cumulative number</text>
</svg>
<div class="x" id="hot1" style="left:72.0px;top:19.4px;font-size:18.7px;color:#1f3864;font-family:'Liberation Sans',sans-serif;direction:rtl;transform:translate(-1.11px,4.41px) scale(1.1101,1.0000);-webkit-text-stroke:0.35px #1f3864;">الخط الساخن:</div>
<div class="x" id="hot2" style="left:103.6px;top:50.0px;font-size:25px;color:#1f3864;font-family:'Liberation Sans',sans-serif;direction:ltr;transform:translate(-1.53px,5.00px) scale(1.0907,1.0000);-webkit-text-stroke:0.35px #1f3864;">1214</div>
<div class="x" id="hot3" style="left:70.0px;top:83.6px;font-size:24.5px;color:#1f3864;font-family:'Liberation Sans',sans-serif;direction:ltr;transform:translate(-1.15px,5.41px) scale(1.1481,1.0000);-webkit-text-stroke:0.35px #1f3864;">01594459</div>
<div class="x" id="title" style="left:334.0px;top:10.4px;font-size:50px;color:#000;font-family:'Liberation Serif',serif;direction:rtl;transform:translate(-2.72px,11.01px) scale(0.9051,1.0000);">ترصد عدوى الكوفيد <span style="font-size:0.9em">19</span> في لبنان</div>
<div class="x" id="date" style="left:516.6px;top:75.1px;font-size:41px;font-weight:bold;color:#953735;font-family:'Liberation Sans',sans-serif;direction:rtl;transform:translate(-0.39px,9.21px) scale(0.9746,1.0000);-webkit-text-stroke:0.35px #953735;">6 <span style="font-size:0.85em">تموز</span> 2020</div>
<div class="x" id="lg1" style="left:951.0px;top:25.2px;font-size:19.5px;font-weight:bold;color:#2b6e3f;font-family:'Liberation Sans',sans-serif;direction:rtl;transform:translate(-1.20px,4.41px) scale(1.1951,1.0000);-webkit-text-stroke:0.5px #2b6e3f;">الجمهوريـة اللبنـانيـة</div>
<div class="x" id="lg2" style="left:950.0px;top:54.5px;font-size:20.4px;font-weight:bold;color:#e2313c;font-family:'Liberation Sans',sans-serif;direction:rtl;transform:translate(-1.16px,4.50px) scale(1.1588,1.0000);-webkit-text-stroke:0.5px #e2313c;">وزارة الصحـة العامـة</div>
<div class="x" id="bt" style="left:136.3px;top:192.4px;font-size:17px;font-weight:bold;color:#1f3864;font-family:'Liberation Sans',sans-serif;direction:rtl;transform:translate(-0.79px,4.41px) scale(1.1254,1.0000);-webkit-text-stroke:0.35px #1f3864;">من توصيات وزارة الصحة العامة:</div>
<div class="x" id="b0" style="left:112.0px;top:246.6px;font-size:18.5px;color:#b24b45;font-family:'Liberation Sans',sans-serif;direction:rtl;transform:translate(-0.96px,4.21px) scale(0.9601,1.0000);-webkit-text-stroke:0.35px #b24b45;">خلال هذ الفترة الحساسة، الزامية ارتداء</div>
<div class="x" id="b1" style="left:122.0px;top:274.4px;font-size:18.5px;color:#b24b45;font-family:'Liberation Sans',sans-serif;direction:rtl;transform:translate(-1.00px,4.21px) scale(1.0036,1.0000);-webkit-text-stroke:0.35px #b24b45;">الكمامة خلال التجول او الحركة خارج</div>
<div class="x" id="b2" style="left:354.0px;top:302.2px;font-size:18.5px;color:#b24b45;font-family:'Liberation Sans',sans-serif;direction:rtl;transform:translate(-0.94px,4.21px) scale(0.9400,1.0000);-webkit-text-stroke:0.35px #b24b45;">المنزل</div>
<div class="x" id="b3" style="left:246.5px;top:330.0px;font-size:18.5px;color:#1f3864;font-family:'Liberation Sans',sans-serif;direction:rtl;transform:translate(-1.48px,4.20px) scale(0.9841,1.0000);-webkit-text-stroke:0.35px #1f3864;">العزل/الحجر المنزلي</div>
<div class="x" id="b4" style="left:88.6px;top:357.8px;font-size:18.5px;color:#1f3864;font-family:'Liberation Sans',sans-serif;direction:rtl;transform:translate(-2.25px,4.20px) scale(0.9381,1.0000);-webkit-text-stroke:0.35px #1f3864;">السلوك الفردي الوقائي: أهمية غسل اليدين،</div>
<div class="x" id="b5" style="left:107.0px;top:385.6px;font-size:18.5px;color:#1f3864;font-family:'Liberation Sans',sans-serif;direction:rtl;transform:translate(-0.95px,4.21px) scale(0.9453,1.0000);-webkit-text-stroke:0.35px #1f3864;">آداب السعال، تجنب لمس العينين والانف</div>
<div class="x" id="b6" style="left:135.6px;top:413.4px;font-size:18.5px;color:#1f3864;font-family:'Liberation Sans',sans-serif;direction:rtl;transform:translate(-1.36px,4.21px) scale(0.9722,1.0000);-webkit-text-stroke:0.35px #1f3864;">والفم، تجنب الاقتراب من أي شخص</div>
<div class="x" id="b7" style="left:161.0px;top:441.2px;font-size:18.5px;color:#1f3864;font-family:'Liberation Sans',sans-serif;direction:rtl;transform:translate(-1.01px,4.21px) scale(1.0127,1.0000);-webkit-text-stroke:0.35px #1f3864;">مريض، تجنب الاماكن المزدحمة</div>
<div class="x" id="b8" style="left:323.8px;top:469.0px;font-size:18.5px;color:#1f3864;font-family:'Liberation Sans',sans-serif;direction:rtl;transform:translate(-1.16px,4.20px) scale(0.9650,1.0000);-webkit-text-stroke:0.35px #1f3864;">والتجمعات</div>
<div class="x" id="b9" style="left:88.6px;top:496.8px;font-size:18.5px;color:#b24b45;font-family:'Liberation Sans',sans-serif;direction:rtl;transform:translate(0.56px,4.20px) scale(0.9270,1.0000);-webkit-text-stroke:0.35px #b24b45;">تشكل الظاهرة الحالية بعدم الالتزام بالتدابير</div>
<div class="x" id="b10" style="left:120.5px;top:524.6px;font-size:18.5px;color:#b24b45;font-family:'Liberation Sans',sans-serif;direction:rtl;transform:translate(0.48px,4.21px) scale(0.9573,1.0000);-webkit-text-stroke:0.35px #b24b45;">الوقائية خطرا في ازدياد احتمال انتشار</div>
<div class="x" id="b11" style="left:274.4px;top:552.4px;font-size:18.5px;color:#b24b45;font-family:'Liberation Sans',sans-serif;direction:rtl;transform:translate(-0.57px,4.21px) scale(0.9448,1.0000);-webkit-text-stroke:0.35px #b24b45;">العدوى بين الناس</div>
<div class="x" id="r0" style="left:622.0px;top:151.4px;font-size:18.5px;color:#1f3864;font-family:'Liberation Sans',sans-serif;direction:rtl;transform:translate(-0.88px,2.21px) scale(0.8840,1.0000);-webkit-text-stroke:0.35px #1f3864;">العدد التراكمي للحالات المثبتة <b>المحلية</b> في لبنان منذ <span style="font-size:1.15em">21</span> شباط <span style="font-size:1.15em">2020</span></div>
<div class="x" id="r1" style="left:619.5px;top:191.2px;font-size:18.5px;color:#c00000;font-family:'Liberation Sans',sans-serif;direction:rtl;transform:translate(-0.43px,2.21px) scale(0.8578,1.0000);-webkit-text-stroke:0.35px #c00000;">عدد الحالات الجديدة <b>المحلية</b> خلال <span style="font-size:1.15em">24</span> ساعة المنصرمة&nbsp; <span style="font-size:0.8em">(<span style="font-size:1.15em">10</span> من المخالطين)</span></div>
<div class="x" id="r2" style="left:662.0px;top:228.8px;font-size:18.5px;color:#1f3864;font-family:'Liberation Sans',sans-serif;direction:rtl;transform:translate(-0.81px,2.20px) scale(0.8065,1.0000);-webkit-text-stroke:0.35px #1f3864;">العدد التراكمي للحالات المثبتة <b>الوافدة</b> الى لبنان منذ <span style="font-size:1.15em">21</span> شباط <span style="font-size:1.15em">2020</span></div>
<div class="x" id="r3" style="left:611.7px;top:268.8px;font-size:18.5px;color:#c00000;font-family:'Liberation Sans',sans-serif;direction:rtl;transform:translate(-0.25px,2.20px) scale(0.8383,1.0000);-webkit-text-stroke:0.35px #c00000;">عدد الحالات الجديدة <b>الوافدة</b> الى لبنان خلال <span style="font-size:1.15em">24</span> ساعة المنصرمة <span style="font-size:0.8em">(من نيجيريا)</span></div>
<div class="x" id="r4" style="left:668.0px;top:307.8px;font-size:18.5px;color:#1f3864;font-family:'Liberation Sans',sans-serif;direction:rtl;transform:translate(-0.82px,2.20px) scale(0.8200,1.0000);-webkit-text-stroke:0.35px #1f3864;">حالة استشفاء منها&nbsp; <span style="font-size:1.15em">7</span> في العناية المركزة خلال <span style="font-size:1.15em">24</span> ساعة المنصرمة</div>
<div class="x" id="r5" style="left:519.7px;top:347.8px;font-size:18.5px;color:#1f3864;font-family:'Liberation Sans',sans-serif;direction:rtl;transform:translate(-0.25px,2.20px) scale(0.8355,1.0000);-webkit-text-stroke:0.35px #1f3864;">عدد الحالات مع شفاء مخبري (نتيجتين سلبيتين متتاليتين) او زمني (مرور اكثر من <span style="font-size:1.15em">30</span> يوما)</div>
<div class="x" id="r6" style="left:751.0px;top:387.1px;font-size:18.5px;color:#1f3864;font-family:'Liberation Sans',sans-serif;direction:rtl;transform:translate(-0.81px,2.21px) scale(0.8058,1.0000);-webkit-text-stroke:0.35px #1f3864;">العدد التراكمي للوفيات في لبنان منذ <span style="font-size:1.15em">21</span> شباط&nbsp; <span style="font-size:1.15em">2020</span></div>
<div class="x" id="r7" style="left:864.0px;top:427.1px;font-size:18.5px;color:#1f3864;font-family:'Liberation Sans',sans-serif;direction:rtl;transform:translate(-0.83px,2.21px) scale(0.8290,1.0000);-webkit-text-stroke:0.35px #1f3864;">حالة وفاة خلال <span style="font-size:1.15em">24</span> ساعة المنصرمة</div>
<div class="x" id="r8" style="left:755.4px;top:467.1px;font-size:18.5px;color:#1f3864;font-family:'Liberation Sans',sans-serif;direction:rtl;transform:translate(-0.51px,2.21px) scale(0.8481,1.0000);-webkit-text-stroke:0.35px #1f3864;">عدد الفحوصات المخبرية* خلال <span style="font-size:1.15em">24</span> ساعة المنصرمة</div>
<div class="x" id="r9" style="left:706.7px;top:508.3px;font-size:18.5px;color:#1f3864;font-family:'Liberation Sans',sans-serif;direction:rtl;transform:translate(-1.08px,2.20px) scale(0.8303,1.0000);-webkit-text-stroke:0.35px #1f3864;">النسبة المئوية للفحوصات الإيجابية خلال <span style="font-size:1.15em">24</span> ساعة المنصرمة</div>
<div class="x" id="r10" style="left:717.4px;top:548.3px;font-size:18.5px;color:#1f3864;font-family:'Liberation Sans',sans-serif;direction:rtl;transform:translate(-0.50px,2.20px) scale(0.8306,1.0000);-webkit-text-stroke:0.35px #1f3864;">عدد الفحوصات المخبرية خلال <span style="font-size:1.15em">24</span> ساعة المنصرمة المحلية</div>
<div class="x" id="r11" style="left:729.3px;top:589.6px;font-size:18.5px;color:#1f3864;font-family:'Liberation Sans',sans-serif;direction:rtl;transform:translate(1.08px,2.21px) scale(0.8299,1.0000);-webkit-text-stroke:0.35px #1f3864;">عدد الفحوصات المخبرية خلال <span style="font-size:1.15em">24</span> ساعة الخاصة بالمطار</div>
<div class="x" id="ct1" style="left:124.4px;top:653.4px;font-size:18px;color:#1f3864;font-family:'Liberation Sans',sans-serif;direction:rtl;transform:translate(-0.56px,4.61px) scale(0.9366,1.0000);">توزيع عدد الحالات الوافدة اليومي والتراكمي حسب اليوم</div>
<div class="x" id="ct2" style="left:757.5px;top:653.4px;font-size:18px;color:#1f3864;font-family:'Liberation Sans',sans-serif;direction:rtl;transform:translate(-1.41px,4.61px) scale(0.9413,1.0000);">توزيع عدد الحالات المحلية اليومي والتراكمي حسب اليوم</div>
</body></html>
